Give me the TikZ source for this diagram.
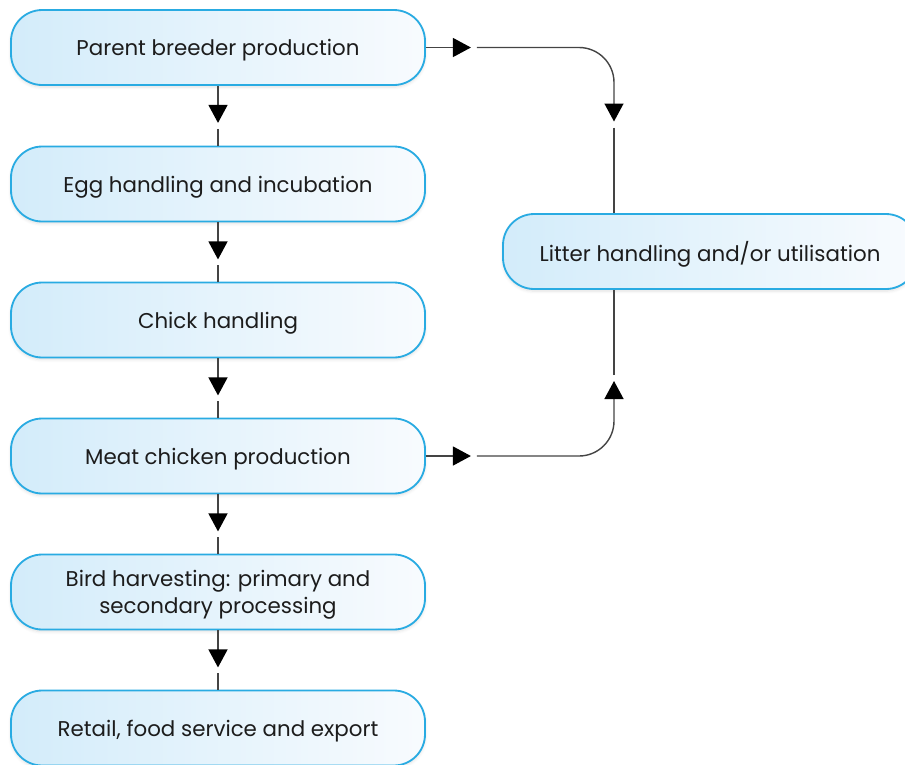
\documentclass[tikz,border=0pt]{standalone}
\usepackage{fontspec}
\setmainfont{Poppins}
\usepackage{tikz}
\usetikzlibrary{arrows.meta,calc,positioning,shadows.blur}
\definecolor{boxline}{HTML}{29ABE2}
\definecolor{boxleft}{HTML}{D3ECFA}
\definecolor{boxright}{HTML}{F8FBFE}
\definecolor{ink}{HTML}{1C1C1C}
\definecolor{wire}{HTML}{444444}

\begin{document}
\begin{tikzpicture}[font=\fontsize{15.2}{19.2}\selectfont, text=ink]
   \clip (0,0) rectangle (22.625,-19.1);
   \tikzset{stage/.style={rectangle, rounded corners=0.78cm, draw=boxline, line width=1.3pt,
              left color=boxleft, right color=boxright, minimum width=10.35cm, minimum height=1.875cm,
              align=center, text depth=0pt,
              blur shadow={shadow blur steps=6, shadow opacity=12, shadow xshift=0pt, shadow yshift=-1.5pt}},
            link/.style={draw=wire, line width=1pt},
            tip/.style={link, -{Triangle[length=0.45cm, width=0.475cm, black]}}}
   \begin{scope}[every node/.style={stage}]
    \node (breeder) at (5.45,-1.1875) {Parent breeder production};
    \node (egg)     at (5.45,-4.6)    {Egg handling and incubation};
    \node (chick)   at (5.45,-8.0)    {Chick handling};
    \node (meat)    at (5.45,-11.4)   {Meat chicken production};
    \node (harvest) at (5.45,-14.8)   {\raisebox{-5.6pt}[0pt][0pt]{\begin{tabular}{@{}c@{}}Bird harvesting: primary and\\secondary processing\end{tabular}}};
    \node (retail)  at (5.45,-18.2)   {Retail, food service and export};
    \node (litter)  at (17.75,-6.2875) {Litter handling and/or utilisation};
   \end{scope}
   % down the main chain
   \foreach \a/\b in {breeder/egg, egg/chick, chick/meat, meat/harvest, harvest/retail} {
    \draw[tip] (\a.south) -- ($(\a.south)+(0,-0.925)$);
    \draw[link] ($(\a.south)+(0,-1.075)$) -- (\b.north);
   }
   % side branch to the litter
   \coordinate (turn) at (15.35,0);
   \draw[tip] (breeder.east) -- ++(1.125,0);
   \draw[tip, rounded corners=0.875cm] ($(breeder.east)+(1.275,0)$) -| ($(turn |- breeder.east)+(0,-1.85)$);
   \draw[link] ($(turn |- breeder.east)+(0,-2.0)$) -- (litter.north -| turn);
   \draw[tip] (meat.east) -- ++(1.125,0);
   \draw[tip, rounded corners=0.875cm] ($(meat.east)+(1.275,0)$) -| ($(turn |- meat.east)+(0,1.875)$);
   \draw[link] ($(turn |- meat.east)+(0,2.025)$) -- (litter.south -| turn);
\end{tikzpicture}
\end{document}
